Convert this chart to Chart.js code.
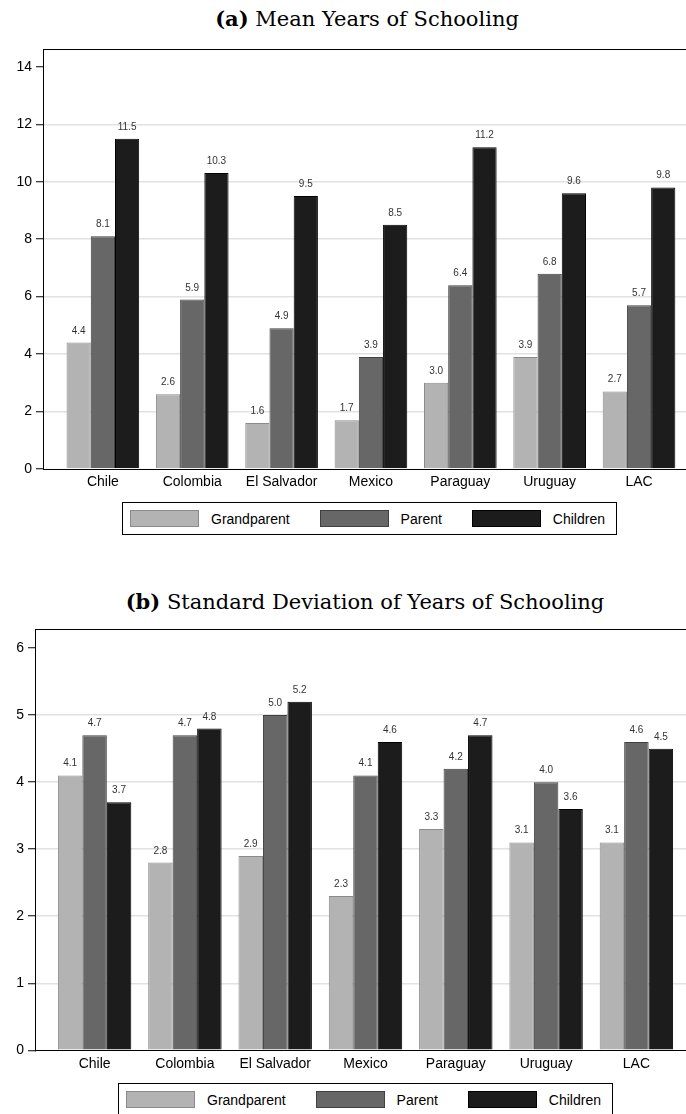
<!DOCTYPE html>
<html>
<head>
<meta charset="utf-8">
<script src="https://cdn.jsdelivr.net/npm/chart.js@4.4.1/dist/chart.umd.min.js"></script>
<style>
  html, body { margin: 0; padding: 0; background: #fff; }
  body { width: 686px; height: 1114px; overflow: hidden; position: relative; }
  canvas { position: absolute; left: 0; }
  .title { position: absolute; left: 0; text-align: center; font-family: "DejaVu Serif", serif; font-size: 21px; line-height: 26px; color: #000; white-space: nowrap; }
  .legend { position: absolute; display: flex; align-items: center; box-sizing: border-box; height: 33px; padding: 0 11px 0 7px; border: 1px solid #000; background: #fff; font-family: "Liberation Sans", Arial, sans-serif; font-size: 14px; color: #000; }
  .legend .item { display: flex; align-items: center; margin-right: 30px; }
  .legend .item:last-child { margin-right: 0; }
  .legend .swatch { box-sizing: border-box; width: 69px; height: 17px; border: 1px solid; margin-right: 12px; }
</style>
</head>
<body>
<div class="title" style="top:6px; width:734px"><b>(a)</b> Mean Years of Schooling</div>
<canvas id="meanChart" width="734" height="500" style="top:0"></canvas>
<div class="legend" id="meanLegend" style="left:122px; top:502px"></div>

<div class="title" style="top:589px; width:730px"><b>(b)</b> Standard Deviation of Years of Schooling</div>
<canvas id="sdChart" width="734" height="600" style="top:560px"></canvas>
<div class="legend" id="sdLegend" style="left:118px; top:1083px"></div>

<script>
const countries = ['Chile', 'Colombia', 'El Salvador', 'Mexico', 'Paraguay', 'Uruguay', 'LAC'];
const generations = ['Grandparent', 'Parent', 'Children'];

// (a) mean years of schooling
const meanGrandparent = [4.4, 2.6, 1.6, 1.7, 3.0, 3.9, 2.7];
const meanParent = [8.1, 5.9, 4.9, 3.9, 6.4, 6.8, 5.7];
const meanChildren = [11.5, 10.3, 9.5, 8.5, 11.2, 9.6, 9.8];
const meanTicks = [0, 2, 4, 6, 8, 10, 12, 14];

// (b) standard deviation of years of schooling
const sdGrandparent = [4.1, 2.8, 2.9, 2.3, 3.3, 3.1, 3.1];
const sdParent = [4.7, 4.7, 5.0, 4.1, 4.2, 4.0, 4.6];
const sdChildren = [3.7, 4.8, 5.2, 4.6, 4.7, 3.6, 4.5];
const sdTicks = [0, 1, 2, 3, 4, 5, 6];

const fills = ['#b3b3b3', '#676767', '#1c1c1c'];
const edges = ['#8a8a8a', '#404040', '#000000'];
const sansFont = { family: '"Liberation Sans", Arial, sans-serif', size: 14 };

function makeDatasets(series) {
    return series.map((values, i) => ({
        label: generations[i],
        data: values.map((v, j) => ({ x: j, y: v })),
        backgroundColor: fills[i],
        borderColor: edges[i],
        borderWidth: 1,
        categoryPercentage: 0.813,
        barPercentage: 1
    }));
}

// value printed above each bar
const barLabels = {
    id: 'barLabels',
    afterDatasetsDraw(chart) {
        const ctx = chart.ctx;
        ctx.save();
        ctx.font = '10px "Liberation Sans", Arial, sans-serif';
        ctx.fillStyle = '#333';
        ctx.textAlign = 'center';
        ctx.textBaseline = 'alphabetic';
        chart.data.datasets.forEach((ds, i) => {
            chart.getDatasetMeta(i).data.forEach((bar, j) => {
                ctx.fillText(ds.data[j].y.toFixed(1), bar.x, bar.y - 9);
            });
        });
        ctx.restore();
    }
};

// box round the plot region
const plotFrame = {
    id: 'plotFrame',
    afterDatasetsDraw(chart) {
        const { ctx, chartArea: a } = chart;
        ctx.save();
        ctx.strokeStyle = '#000';
        ctx.lineWidth = 1;
        ctx.strokeRect(Math.round(a.left) + 0.5, Math.round(a.top) + 0.5, a.right - a.left, a.bottom - a.top);
        ctx.restore();
    }
};

function htmlLegend(boxId) {
    return {
        id: 'htmlLegend',
        afterUpdate(chart) {
            const box = document.getElementById(boxId);
            box.innerHTML = '';
            chart.options.plugins.legend.labels.generateLabels(chart).forEach(item => {
                const row = document.createElement('div');
                row.className = 'item';
                const sw = document.createElement('span');
                sw.className = 'swatch';
                sw.style.background = item.fillStyle;
                sw.style.borderColor = item.strokeStyle;
                const tx = document.createElement('span');
                tx.textContent = item.text;
                row.append(sw, tx);
                box.appendChild(row);
            });
        }
    };
}

function drawPanel(canvasId, legendId, series, ticks, yMax, layout) {
    const top = ticks[ticks.length - 1];
    return new Chart(document.getElementById(canvasId), {
        type: 'bar',
        data: { datasets: makeDatasets(series) },
        options: {
            responsive: false,
            animation: false,
            layout: { padding: layout.padding },
            plugins: { legend: { display: false }, tooltip: { enabled: false } },
            scales: {
                x: {
                    type: 'linear',
                    min: layout.xMin,
                    max: layout.xMax,
                    offset: false,
                    grid: { display: false, drawTicks: false },
                    border: { display: true, color: '#000', width: 1 },
                    afterBuildTicks: axis => { axis.ticks = countries.map((c, i) => ({ value: i })); },
                    afterFit: axis => { axis.height = 25; },
                    ticks: {
                        autoSkip: false,
                        maxRotation: 0,
                        padding: 5,
                        color: '#000',
                        font: sansFont,
                        callback: v => countries[v]
                    }
                },
                y: {
                    min: 0,
                    max: yMax,
                    afterBuildTicks: axis => { axis.ticks = ticks.map(v => ({ value: v })); },
                    afterFit: axis => { axis.width = layout.axisWidth; },
                    grid: {
                        color: c => (c.tick && c.tick.value > 0 && c.tick.value < top) ? '#e2e2e2' : 'rgba(0,0,0,0)',
                        lineWidth: 1.5,
                        tickColor: '#000',
                        tickWidth: 1,
                        tickLength: 7
                    },
                    border: { display: true, color: '#000', width: 1 },
                    ticks: { padding: 4, color: '#000', font: sansFont }
                }
            }
        },
        plugins: [barLabels, plotFrame, htmlLegend(legendId)]
    });
}

drawPanel('meanChart', 'meanLegend', [meanGrandparent, meanParent, meanChildren], meanTicks, 14.62, {
    padding: { top: 49, right: 36, bottom: 6, left: 0 },
    axisWidth: 43, xMin: -0.67, xMax: 6.66
});

drawPanel('sdChart', 'sdLegend', [sdGrandparent, sdParent, sdChildren], sdTicks, 6.28, {
    padding: { top: 69.3, right: 38, bottom: 84.7, left: 0 },
    axisWidth: 35, xMin: -0.66, xMax: 6.66
});
</script>
</body>
</html>
